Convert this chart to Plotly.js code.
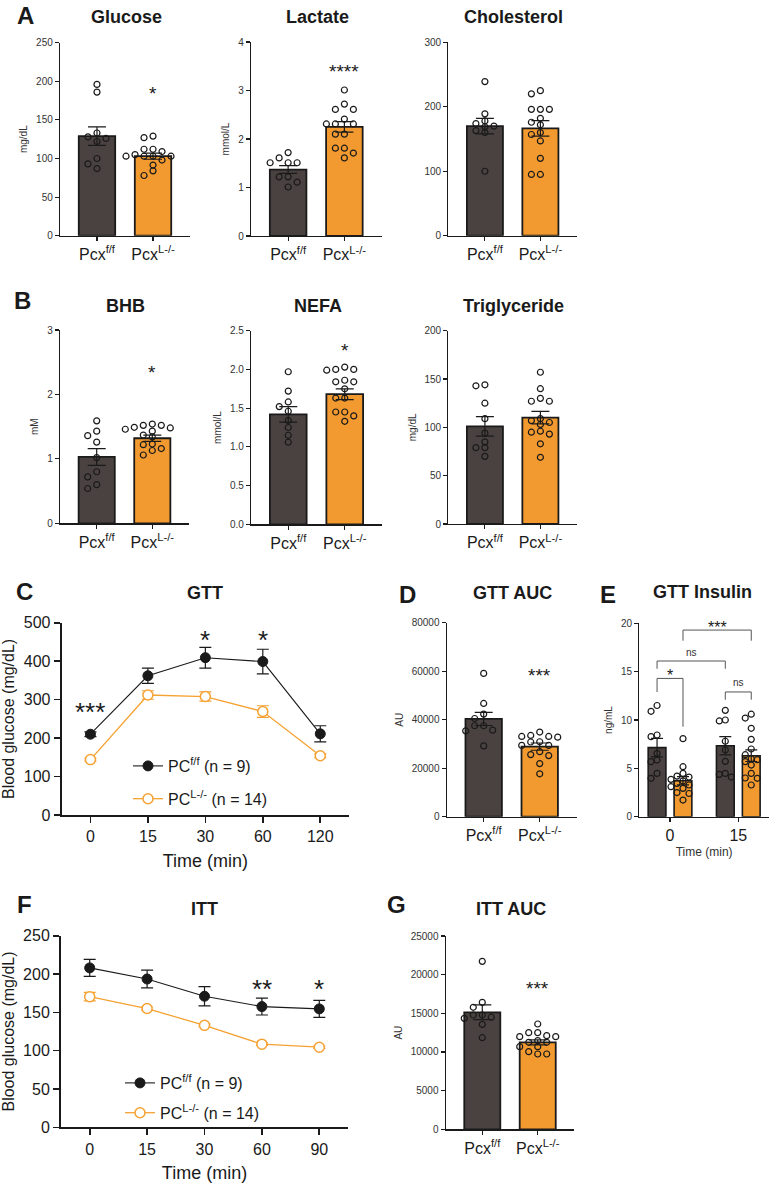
<!DOCTYPE html>
<html>
<head>
<meta charset="utf-8">
<script src="https://cdn.plot.ly/plotly-3.0.1.min.js"></script>
<style>
  html, body { margin: 0; padding: 0; background: #fff; }
  #fig { width: 769px; height: 1184px; }
</style>
</head>
<body>
<div id="fig"></div>
<script>
// ---------- values ----------
const groupLabels = ['Pcx<sup>f/f</sup>', 'Pcx<sup>L-/-</sup>'];

const glucoseMean = [129, 103];
const glucoseSem = [12, 4];
const glucoseFF = [196, 186, 133, 128, 126, 122, 100, 93, 87];
const glucoseKO = [129, 127, 112, 112, 109, 105, 103, 103, 103, 103, 98, 91.5, 84, 78];

const lactateMean = [1.37, 2.25];
const lactateSem = [0.08, 0.11];
const lactateFF = [1.72, 1.61, 1.51, 1.51, 1.51, 1.22, 1.22, 1.11, 1.01];
const lactateKO = [3.01, 2.72, 2.61, 2.61, 2.41, 2.31, 2.31, 2.31, 2.10, 2.10, 1.81, 1.81, 1.71, 1.61];

const cholMean = [170, 166.5];
const cholSem = [12, 12];
const cholFF = [239, 189, 178, 174, 170, 169, 163, 160, 100];
const cholKO = [225, 220, 196, 196, 196, 182, 176, 172, 160, 157, 147, 120, 95, 95];

const bhbMean = [1.03, 1.32];
const bhbSem = [0.13, 0.05];
const bhbFF = [1.59, 1.43, 1.36, 1.26, 1.02, 0.80, 0.72, 0.60, 0.54];
const bhbKO = [1.54, 1.52, 1.52, 1.49, 1.48, 1.46, 1.43, 1.37, 1.34, 1.23, 1.22, 1.16, 1.13, 1.06];

const nefaMean = [1.42, 1.68];
const nefaSem = [0.1, 0.07];
const nefaFF = [1.97, 1.72, 1.58, 1.52, 1.46, 1.34, 1.25, 1.15, 1.06];
const nefaKO = [2.03, 2.00, 2.00, 1.99, 1.86, 1.84, 1.84, 1.75, 1.63, 1.63, 1.45, 1.45, 1.40, 1.33];

const tgMean = [101, 110];
const tgSem = [10, 6.5];
const tgFF = [144, 143, 125, 109, 94, 85, 79, 79, 70];
const tgKO = [157, 140, 130, 127, 127, 109, 107, 105, 103, 96, 95, 93, 83, 69];

const gttTimes = ['0', '15', '30', '60', '120'];
const gttFF = [210, 362, 409, 399, 211];
const gttFFSem = [6, 20, 27, 32, 21];
const gttKO = [144, 312, 308, 269, 154];
const gttKOSem = [4, 11, 12, 15, 5];

const gttAucMean = [40300, 28900];
const gttAucSem = [2700, 1500];
const gttAucFF = [59100, 46700, 42300, 40500, 37500, 37500, 35700, 35400, 29200];
const gttAucKO = [34900, 33500, 33100, 33100, 32800, 30900, 30800, 29400, 29400, 26800, 25600, 25200, 21900, 17700];

const insTimes = ['0', '15'];
const insFFMean = [7.14, 7.34];
const insFFSem = [0.95, 0.95];
const insKOMean = [3.72, 6.31];
const insKOSem = [0.43, 0.6];
const insFF0 = [11.5, 10.9, 8.45, 8.28, 6.55, 5.86, 5.69, 4.48, 3.97];
const insKO0 = [8.07, 5.17, 4.48, 4.2, 4.1, 3.86, 3.7, 3.45, 3.28, 3.1, 2.93, 2.5, 2.4, 1.72];
const insFF15 = [11.0, 10.0, 9.9, 7.8, 6.9, 5.72, 4.48, 4.38, 4.1];
const insKO15 = [10.6, 10.2, 9.14, 8.0, 7.0, 6.41, 6.0, 5.9, 5.7, 5.34, 4.48, 4.0, 3.97, 3.28];

const ittTimes = ['0', '15', '30', '60', '90'];
const ittFF = [208, 193.5, 171, 157.5, 154.5];
const ittFFSem = [11, 11.5, 12.5, 11, 11];
const ittKO = [170.5, 155, 133, 108.5, 104.5];
const ittKOSem = [5.5, 2, 2, 1.5, 1.5];

const ittAucMean = [15130, 11250];
const ittAucSem = [950, 320];
const ittAucFF = [21720, 16420, 15780, 14780, 14780, 14500, 14350, 13570, 11850];
const ittAucKO = [13620, 12500, 12500, 12110, 11980, 11980, 11470, 11250, 11250, 10690, 10690, 10040, 9740, 9740];

// ---------- page geometry & styles ----------
const W = 769, H = 1184;
const fx = px => px / W;
const fy = py => 1 - py / H;
const FONT = 'Liberation Sans, Arial, Helvetica, sans-serif';
const ink = '#1a1a1a';
const darkFill = '#4a4240';
const orangeFill = '#f29a30';
const orangeLine = '#f5a233';

const traces = [];
const layout = {
  width: W, height: H,
  margin: { l: 0, r: 0, t: 0, b: 0 },
  paper_bgcolor: '#fff', plot_bgcolor: 'rgba(0,0,0,0)',
  font: { family: FONT, color: ink },
  barmode: 'overlay',
  showlegend: true,
  annotations: [], shapes: []
};

const axName = (k, n) => k + (n === 1 ? '' : n);

function addAxes(n, box, xo, yo) {
  const base = {
    showline: true, linecolor: ink, linewidth: 1.2, ticks: 'outside', ticklen: 4,
    tickwidth: 1.1, tickcolor: ink, showgrid: false, zeroline: false, fixedrange: true
  };
  layout[axName('xaxis', n)] = Object.assign({}, base, {
    domain: [fx(box[0]), fx(box[1])], anchor: axName('y', n)
  }, xo);
  layout[axName('yaxis', n)] = Object.assign({}, base, {
    domain: [fy(box[3]), fy(box[2])], anchor: axName('x', n)
  }, yo);
}

// simple deterministic swarm: spread points that would overlap
function swarm(vals, center, pxX, pxY, step, diam) {
  const order = vals.map((v, i) => i).sort((a, b) => vals[b] - vals[a]);
  const placed = [];
  const xs = [];
  order.forEach(i => {
    const py = vals[i] * pxY;
    for (let k = 0; k < 30; k++) {
      const off = k === 0 ? 0 : (k % 2 ? -1 : 1) * Math.ceil(k / 2) * step;
      if (placed.every(p => (p[0] - off) ** 2 + (p[1] - py) ** 2 >= diam * diam)) {
        placed.push([off, py]);
        xs[i] = center + off / pxX;
        break;
      }
    }
  });
  return xs;
}

function label(text, px, py, size, opts) {
  layout.annotations.push(Object.assign({
    text: text, x: fx(px), y: fy(py), xref: 'paper', yref: 'paper',
    showarrow: false, xanchor: 'center', yanchor: 'middle',
    font: { family: FONT, size: size, color: ink }
  }, opts || {}));
}

function star(n, text, x, y, size) {
  if (!text) return;
  layout.annotations.push({
    text: text, x: x, y: y, xref: axName('x', n), yref: axName('y', n),
    showarrow: false, yshift: -0.27 * size,
    font: { family: FONT, size: size, color: ink }
  });
}

const dotStyle = { symbol: 'circle', size: 6, color: 'rgba(0,0,0,0)', line: { color: ink, width: 1.2 } };
const XR = [-0.66, 1.66];

function barPanel(n, p) {
  const b = p.box;
  const pxX = (b[1] - b[0]) / (XR[1] - XR[0]);
  const pxY = (b[3] - b[2]) / p.ymax;
  const xr = axName('x', n), yr = axName('y', n);
  traces.push({
    type: 'bar', x: [0, 1], y: p.means, width: 0.65, xaxis: xr, yaxis: yr,
    marker: { color: [darkFill, orangeFill], line: { color: ink, width: 1.8 } },
    error_y: { type: 'data', array: p.sems, visible: true, color: ink, thickness: 1.2, width: 9 },
    showlegend: false, hoverinfo: 'skip'
  });
  p.pts.forEach((vals, g) => traces.push({
    type: 'scatter', mode: 'markers', x: swarm(vals, g, pxX, pxY, 9, 5.5), y: vals,
    xaxis: xr, yaxis: yr, marker: dotStyle, showlegend: false, hoverinfo: 'skip', cliponaxis: false
  }));
  const yo = {
    range: [0, p.ymax], dtick: p.dtick, tickformat: p.fmt || 'd', tickfont: { size: 10, color: '#333' }
  };
  if (p.ytitle) yo.title = { text: p.ytitle, font: { size: 10, color: '#333' }, standoff: 6 };
  addAxes(n, b, {
    range: XR, tickvals: [0, 1], ticktext: groupLabels, tickfont: { size: 16, color: ink }
  }, yo);
  star(n, p.star, 1, p.starY, 19);
  label('<b>' + p.title + '</b>', (b[0] + b[1]) / 2 + 1, p.titleY, 18);
}

const barPanels = [
  { n: 1, title: 'Glucose', ytitle: 'mg/dL', means: glucoseMean, sems: glucoseSem, pts: [glucoseFF, glucoseKO],
    ymax: 250, dtick: 50, star: '*', starY: 191, box: [60, 190, 42.7, 235.7], titleY: 17 },
  { n: 2, title: 'Lactate', ytitle: 'mmol/L', means: lactateMean, sems: lactateSem, pts: [lactateFF, lactateKO],
    ymax: 4, dtick: 1, star: '****', starY: 3.5, box: [251, 381.5, 42, 236], titleY: 17 },
  { n: 3, title: 'Cholesterol', ytitle: '', means: cholMean, sems: cholSem, pts: [cholFF, cholKO],
    ymax: 300, dtick: 100, star: '', starY: 0, box: [448.3, 577, 42.3, 235.7], titleY: 17 },
  { n: 4, title: 'BHB', ytitle: 'mM', means: bhbMean, sems: bhbSem, pts: [bhbFF, bhbKO],
    ymax: 3, dtick: 1, star: '*', starY: 2.42, box: [60, 189, 330, 523.3], titleY: 305.5 },
  { n: 5, title: 'NEFA', ytitle: 'mmol/L', means: nefaMean, sems: nefaSem, pts: [nefaFF, nefaKO],
    ymax: 2.5, dtick: 0.5, fmt: '.1f', star: '*', starY: 2.31, box: [251, 382, 330.7, 524.3], titleY: 305.5 },
  { n: 6, title: 'Triglyceride', ytitle: 'mg/dL', means: tgMean, sems: tgSem, pts: [tgFF, tgKO],
    ymax: 200, dtick: 50, star: '', starY: 0, box: [448.3, 577, 330.7, 524], titleY: 305.5 },
  { n: 8, title: 'GTT AUC', ytitle: 'AU', means: gttAucMean, sems: gttAucSem, pts: [gttAucFF, gttAucKO],
    ymax: 80000, dtick: 20000, star: '***', starY: 60500, box: [446.7, 576.7, 622.7, 816.7], titleY: 592.7 },
  { n: 11, title: 'ITT AUC', ytitle: 'AU', means: ittAucMean, sems: ittAucSem, pts: [ittAucFF, ittAucKO],
    ymax: 25000, dtick: 5000, star: '***', starY: 18900, box: [445.7, 574.3, 936, 1129.3], titleY: 909 }
];
barPanels.forEach(p => barPanel(p.n, p));

// ---------- time-course panels (C, F) ----------
function linePanel(n, p) {
  const xr = axName('x', n), yr = axName('y', n);
  const idx = p.times.map((t, i) => i);
  const lg = n === 7 ? 'legend' : 'legend2';
  traces.push({
    type: 'scatter', mode: 'lines+markers', x: idx, y: p.ff, xaxis: xr, yaxis: yr,
    name: 'PC<sup>f/f</sup> (n = 9)', legend: lg, legendgroup: lg + 'a',
    line: { color: ink, width: 1.1 },
    marker: { symbol: 'circle', size: 10, color: ink, line: { color: ink, width: 1 } },
    error_y: { type: 'data', array: p.ffSem, visible: true, color: ink, thickness: 1.2, width: 6 },
    cliponaxis: false, hoverinfo: 'skip'
  });
  traces.push({
    type: 'scatter', mode: 'lines+markers', x: idx, y: p.ko, xaxis: xr, yaxis: yr,
    name: 'PC<sup>L-/-</sup> (n = 14)', legend: lg, legendgroup: lg + 'b',
    line: { color: orangeLine, width: 1.3 },
    marker: { symbol: 'circle', size: 10, color: '#fff', line: { color: orangeLine, width: 1.5 } },
    error_y: { type: 'data', array: p.koSem, visible: true, color: orangeLine, thickness: 1.2, width: 6 },
    cliponaxis: false, hoverinfo: 'skip'
  });
  addAxes(n, p.box, {
    range: [-0.5, 4.5], tickvals: idx, ticktext: p.times, linewidth: 2, ticklen: 6, tickwidth: 1.6,
    tickfont: { size: 16, color: ink },
    title: { text: 'Time (min)', font: { size: 18, color: ink }, standoff: 10 }
  }, {
    range: [0, p.ymax], dtick: p.dtick, linewidth: 2, ticklen: 6, tickwidth: 1.6,
    tickfont: { size: 16, color: ink },
    title: { text: 'Blood glucose (mg/dL)', font: { size: 16, color: ink }, standoff: 8 }
  });
  p.stars.forEach(s => star(n, s[0], s[1], s[2], 26));
  label('<b>' + p.title + '</b>', (p.box[0] + p.box[1]) / 2, p.titleY, 18);
}

linePanel(7, { title: 'GTT', times: gttTimes, ff: gttFF, ffSem: gttFFSem, ko: gttKO, koSem: gttKOSem,
  ymax: 500, dtick: 100, box: [61.7, 349, 622.7, 815], titleY: 592.7,
  stars: [['***', 0, 286], ['*', 2, 473], ['*', 3, 473]] });
linePanel(10, { title: 'ITT', times: ittTimes, ff: ittFF, ffSem: ittFFSem, ko: ittKO, koSem: ittKOSem,
  ymax: 250, dtick: 50, box: [61, 348, 935.7, 1127.3], titleY: 909.3,
  stars: [['**', 3, 189], ['*', 4, 189]] });

layout.legend = { x: fx(128), y: fy(749), xanchor: 'left', yanchor: 'top', bgcolor: 'rgba(0,0,0,0)',
  font: { size: 16, color: ink }, tracegroupgap: 9 };
layout.legend2 = { x: fx(120), y: fy(1066), xanchor: 'left', yanchor: 'top', bgcolor: 'rgba(0,0,0,0)',
  font: { size: 16, color: ink }, tracegroupgap: 6 };

// ---------- insulin panel (E) ----------
const insBox = [639.3, 769, 623.3, 816.7];
const insXR = [-0.45, 1.45];
const insOff = 0.19;
const insPxX = (insBox[1] - insBox[0]) / (insXR[1] - insXR[0]);
const insPxY = (insBox[3] - insBox[2]) / 20;
traces.push({
  type: 'bar', x: [0 - insOff, 1 - insOff], y: insFFMean, width: 0.26, xaxis: 'x9', yaxis: 'y9',
  marker: { color: darkFill, line: { color: ink, width: 1.6 } },
  error_y: { type: 'data', array: insFFSem, visible: true, color: ink, thickness: 1.2, width: 6 },
  showlegend: false, hoverinfo: 'skip'
});
traces.push({
  type: 'bar', x: [0 + insOff, 1 + insOff], y: insKOMean, width: 0.26, xaxis: 'x9', yaxis: 'y9',
  marker: { color: orangeFill, line: { color: ink, width: 1.6 } },
  error_y: { type: 'data', array: insKOSem, visible: true, color: ink, thickness: 1.2, width: 6 },
  showlegend: false, hoverinfo: 'skip'
});
const insGroups = [[insFF0, -insOff], [insKO0, insOff], [insFF15, 1 - insOff], [insKO15, 1 + insOff]];
insGroups.forEach(g => traces.push({
  type: 'scatter', mode: 'markers', x: swarm(g[0], g[1], insPxX, insPxY, 6, 6), y: g[0],
  xaxis: 'x9', yaxis: 'y9', marker: dotStyle, showlegend: false, hoverinfo: 'skip', cliponaxis: false
}));
addAxes(9, insBox, {
  range: insXR, tickvals: [0, 1], ticktext: insTimes, tickfont: { size: 16, color: ink },
  title: { text: 'Time (min)', font: { size: 12, color: '#333' }, standoff: 4 }
}, {
  range: [0, 20], dtick: 5, tickformat: 'd', tickfont: { size: 10, color: '#333' },
  title: { text: 'ng/mL', font: { size: 10, color: '#333' }, standoff: 6 }
});
// comparisons: [bar a, bar b, bracket level, leg end a, leg end b, label, label level]
const insComparisons = [
  [0, 1, 14.3, 12.9, 9.3, '*', 15.0],
  [0, 2, 16.1, 15.3, 15.3, 'ns', 17.0],
  [1, 3, 19.3, 18.2, 18.2, '***', 20.0],
  [2, 3, 12.9, 12.1, 12.1, 'ns', 13.9]
];
insComparisons.forEach(c => {
  const xa = insGroups[c[0]][1], xb = insGroups[c[1]][1];
  layout.shapes.push({
    type: 'path', xref: 'x9', yref: 'y9',
    path: `M${xa},${c[3]} L${xa},${c[2]} L${xb},${c[2]} L${xb},${c[4]}`,
    line: { color: '#555', width: 1 }
  });
  if (c[5] === 'ns') {
    layout.annotations.push({ text: 'ns', x: (xa + xb) / 2, y: c[6], xref: 'x9', yref: 'y9', showarrow: false,
      font: { family: FONT, size: 10, color: '#333' } });
  } else {
    star(9, c[5], (xa + xb) / 2, c[6], 16);
  }
});
label('<b>GTT Insulin</b>', 702, 592.3, 18);

// ---------- panel letters ----------
[['A', 25, 15], ['B', 22.5, 300], ['C', 24.5, 591.5], ['D', 407.5, 594.5], ['E', 608, 594.5],
 ['F', 24.5, 904], ['G', 396.5, 904]].forEach(l => label('<b>' + l[0] + '</b>', l[1], l[2], 24));

Plotly.newPlot('fig', traces, layout, { staticPlot: true });
</script>
</body>
</html>
